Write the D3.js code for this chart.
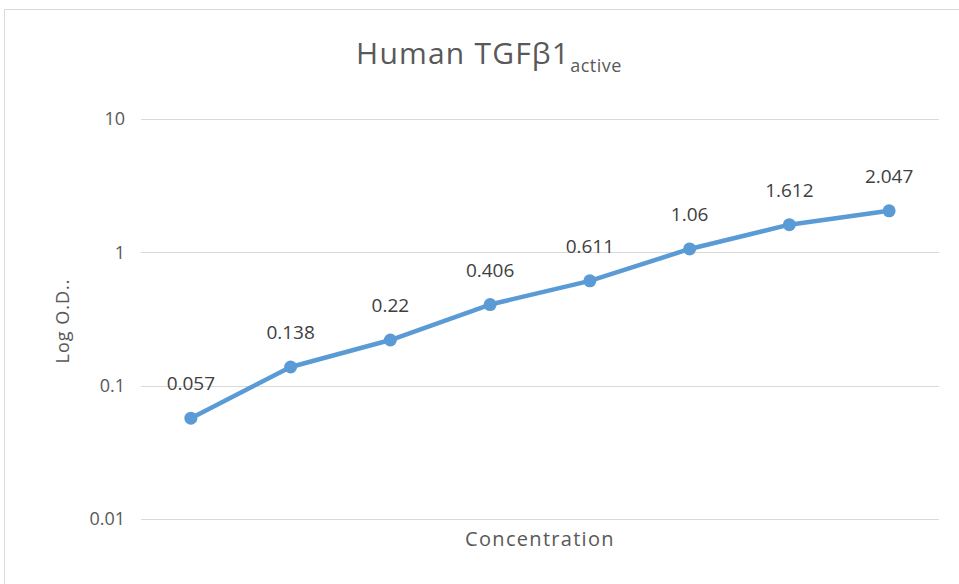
<!DOCTYPE html>
<html><head><meta charset="utf-8">
<script src="https://cdn.jsdelivr.net/npm/d3@7"></script>
<style>body{margin:0;background:#fff}svg{display:block}text{font-family:"Open Sans","Noto Sans",sans-serif}</style>
</head><body><svg id="c" width="959" height="584"></svg>
<script>
const categories = ["1","2","3","4","5","6","7","8"];
const values = [0.057, 0.138, 0.22, 0.406, 0.611, 1.06, 1.612, 2.047];
const yTicks = [0.01, 0.1, 1, 10];
const yTickLabels = ["0.01", "0.1", "1", "10"];

const svg = d3.select("#c");
svg.append("path").attr("d","M4.5,584 V9.5 H959").attr("fill","none").attr("stroke","#d9d9d9").attr("stroke-width",1);

const x = d3.scaleBand().domain(categories).range([141, 939]);
const y = d3.scaleLog().domain([0.01, 10]).range([519, 119]);

const grid = svg.append("g");
grid.selectAll("line").data(yTicks).join("line")
  .attr("x1",141).attr("x2",939)
  .attr("y1",d=>Math.round(y(d))+0.5).attr("y2",d=>Math.round(y(d))+0.5)
  .attr("stroke","#d9d9d9").attr("stroke-width",1);

const yAxis = d3.axisLeft(y).tickValues(yTicks).tickFormat((d,i)=>yTickLabels[i]).tickSize(0).tickPadding(16);
const ga = svg.append("g").attr("transform","translate(141,0)").call(yAxis);
ga.select(".domain").remove();
ga.selectAll("text").attr("font-size",18).attr("fill","#595959").attr("font-family","'Open Sans',sans-serif");

const line = d3.line().x((d,i)=>x(categories[i])+x.bandwidth()/2).y(d=>y(d));
svg.append("path").datum(values).attr("d",line).attr("fill","none").attr("stroke","#5b9bd5").attr("stroke-width",4.5).attr("stroke-linejoin","round").attr("stroke-linecap","round");
svg.append("g").selectAll("circle").data(values).join("circle")
  .attr("cx",(d,i)=>x(categories[i])+x.bandwidth()/2).attr("cy",d=>y(d)).attr("r",6.5).attr("fill","#5b9bd5");
svg.append("g").selectAll("text").data(values).join("text")
  .attr("x",(d,i)=>x(categories[i])+x.bandwidth()/2).attr("y",d=>y(d)-28)
  .attr("text-anchor","middle").attr("font-size",19).attr("fill","#404040").text(d=>String(d));

const t = svg.append("text").attr("x",489).attr("y",64).attr("text-anchor","middle").attr("fill","#595959").attr("font-size",30);
t.append("tspan").attr("letter-spacing",1.2).text("Human TGFβ1");
t.append("tspan").attr("font-size",18).attr("dy",8).attr("letter-spacing",0.5).text("active");

svg.append("text").attr("x",540).attr("y",546).attr("text-anchor","middle").attr("fill","#595959").attr("font-size",20).attr("letter-spacing",1.3).text("Concentration");
svg.append("text").attr("transform","translate(69,321) rotate(-90)").attr("text-anchor","middle").attr("fill","#595959").attr("font-size",18).attr("letter-spacing",1).text("Log O.D..");
</script></body></html>
